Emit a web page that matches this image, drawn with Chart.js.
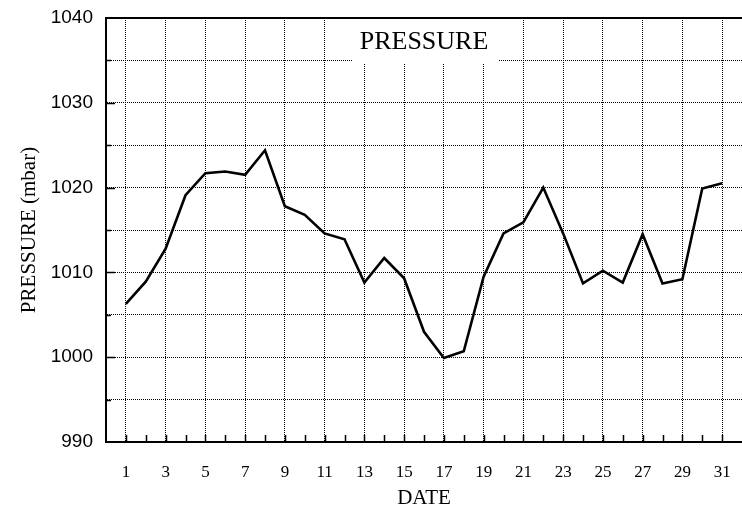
<!DOCTYPE html>
<html>
<head>
<meta charset="utf-8">
<script src="https://cdn.jsdelivr.net/npm/chart.js@4"></script>
<style>
html,body{margin:0;padding:0;background:#fff;}
#wrap{width:742px;height:511px;position:relative;}
</style>
</head>
<body>
<div id="wrap"><canvas id="c" width="742" height="511"></canvas></div>
<script>
// ---- data ----
const days = [1,2,3,4,5,6,7,8,9,10,11,12,13,14,15,16,17,18,19,20,21,22,23,24,25,26,27,28,29,30,31];
const pressure = [1006.3,1008.9,1012.8,1019.1,1021.7,1021.9,1021.5,1024.4,1017.8,1016.8,1014.6,1013.9,1008.8,1011.7,1009.3,1003.0,999.9,1000.7,1009.5,1014.6,1015.9,1020.0,1014.6,1008.7,1010.2,1008.8,1014.5,1008.7,1009.2,1019.9,1020.5];
const xTickDays = [1,3,5,7,9,11,13,15,17,19,21,23,25,27,29,31];
const yMajorTicks = [990,1000,1010,1020,1030,1040];
const chartTitle = 'PRESSURE';
const xTitle = 'DATE';
const yTitle = 'PRESSURE (mbar)';

const serif = "'Liberation Serif','Times New Roman',serif";
const sans = "'Liberation Sans',Arial,sans-serif";

function zeroPad(s) { s.paddingTop = 0; s.paddingBottom = 0; s.paddingLeft = 0; s.paddingRight = 0; }

const decor = {
  id: 'decor',
  afterDatasetsDraw(chart) {
    const {ctx, chartArea: a, scales: {x, y}} = chart;
    ctx.save();
    // top frame line
    ctx.strokeStyle = '#000';
    ctx.lineWidth = 2;
    ctx.beginPath();
    ctx.moveTo(a.left, a.top);
    ctx.lineTo(a.right, a.top);
    ctx.stroke();
    // inside minor ticks on bottom axis (every day)
    ctx.lineWidth = 1.5;
    ctx.beginPath();
    for (let d = 1; d <= 31; d++) {
      const px = Math.round(x.getPixelForValue(d)) + 0.5;
      ctx.moveTo(px, a.bottom);
      ctx.lineTo(px, a.bottom - 7);
    }
    // inside ticks on left axis
    for (let v = 995; v < 1040; v += 5) {
      const py = Math.round(y.getPixelForValue(v)) + 0.5;
      const len = (v % 10 === 0) ? 9 : 5;
      ctx.moveTo(a.left, py);
      ctx.lineTo(a.left + len, py);
    }
    ctx.stroke();
    // title box
    const cx = (a.left + a.right) / 2;
    ctx.fillStyle = '#fff';
    ctx.fillRect(cx - 72, a.top + 2, 147, 43);
    ctx.fillStyle = '#000';
    ctx.font = "26px " + serif;
    ctx.textAlign = 'center';
    ctx.textBaseline = 'middle';
    ctx.fillText(chartTitle, cx, a.top + 24);
    ctx.restore();
  }
};

new Chart(document.getElementById('c'), {
  type: 'line',
  data: {
    datasets: [{
      data: days.map((d, i) => ({x: d, y: pressure[i]})),
      borderColor: '#000',
      borderWidth: 2.6,
      pointRadius: 0,
      tension: 0,
      fill: false
    }]
  },
  options: {
    responsive: false,
    animation: false,
    devicePixelRatio: 1,
    layout: {autoPadding: false, padding: {top: 18, right: 0, left: 0, bottom: 0}},
    plugins: {legend: {display: false}, tooltip: {enabled: false}, title: {display: false}},
    scales: {
      x: {
        type: 'linear',
        min: 0, max: 32,
        afterBuildTicks: s => { s.ticks = xTickDays.map(v => ({value: v})); },
        afterFit: s => { s.height = 69; zeroPad(s); },
        ticks: {
          autoSkip: false, maxRotation: 0, padding: 20,
          color: '#000',
          font: {family: serif, size: 17},
          callback: v => String(v)
        },
        grid: {color: '#000', lineWidth: 1, drawTicks: false},
        border: {display: true, color: '#000', width: 2, dash: [1, 1]},
        title: {display: true, text: xTitle, color: '#000', font: {family: serif, size: 21}, padding: {top: 0, bottom: 0}}
      },
      y: {
        min: 990, max: 1040,
        afterBuildTicks: s => {
          const t = [];
          for (let v = 990; v <= 1040; v += 5) t.push({value: v});
          s.ticks = t;
        },
        afterFit: s => { s.width = 106; zeroPad(s); },
        ticks: {
          padding: 13,
          color: '#000',
          font: {family: sans, size: 19},
          callback: v => yMajorTicks.includes(v) ? String(v) : ''
        },
        grid: {color: '#000', lineWidth: 1, drawTicks: false},
        border: {display: true, color: '#000', width: 2, dash: [1, 1]},
        title: {display: true, text: yTitle, color: '#000', font: {family: serif, size: 21}, padding: {top: 17, bottom: 0}}
      }
    }
  },
  plugins: [decor]
});
</script>
</body>
</html>
